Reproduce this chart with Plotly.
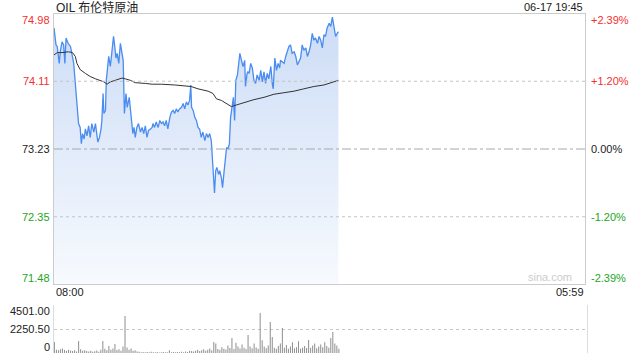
import plotly.graph_objects as go

# ---------------- data ----------------
title_text = "OIL 布伦特原油"
stamp_text = "06-17 19:45"
prev_close = 73.23
pct_ticks = [2.39, 1.20, 0.00, -1.20, -2.39]
session_minutes = 1320          # 08:00 -> 05:59 next day
time_labels = ["08:00", "05:59"]
watermark = "sina.com"

# minutes since 08:00, price
price_t = [0, 5, 8, 10, 13, 16, 20, 24, 27, 30, 35, 41, 45, 49, 53, 57, 61, 65, 68, 71,
           75, 78, 82, 86, 90, 94, 99, 103, 107, 109, 113, 117, 119, 122, 124, 128, 130, 133, 136, 140,
           144, 148, 151, 154, 157, 161, 165, 169, 172, 175, 179, 182, 187, 191, 196, 199, 202, 206, 210, 215,
           219, 223, 227, 231, 235, 240, 244, 246, 250, 254, 259, 263, 267, 271, 275, 279, 283, 288, 292, 296,
           300, 304, 308, 312, 317, 321, 325, 329, 333, 337, 340, 342, 346, 350, 354, 358, 362, 366, 370, 375,
           379, 383, 387, 391, 394, 397, 399, 402, 405, 409, 412, 416, 419, 423, 426, 429, 433, 436, 439, 443,
           446, 449, 452, 456, 459, 462, 466, 470, 474, 476, 480, 482, 485, 489, 493, 497, 501, 505, 510, 514,
           518, 522, 526, 530, 534, 539, 543, 545, 549, 553, 557, 561, 563, 568, 572, 576, 580, 584, 588, 592,
           597, 601, 605, 609, 613, 617, 621, 626, 630, 634, 638, 642, 646, 650, 655, 659, 663, 667, 671, 675,
           679, 684, 688, 692, 696, 700, 704, 707]
price_v = [74.80, 74.58, 74.56, 74.49, 74.34, 74.51, 74.62, 74.58, 74.34, 74.67, 74.60, 74.56, 74.47, 74.34, 74.08, 73.82, 73.56, 73.51, 73.30, 73.43,
           73.36, 73.49, 73.40, 73.53, 73.38, 73.56, 73.45, 73.56, 73.43, 73.32, 73.38, 73.49, 73.60, 73.95, 73.69, 73.73, 74.12, 74.34, 74.43, 74.30,
           74.51, 74.69, 74.56, 74.41, 74.47, 74.34, 74.60, 74.47, 74.38, 73.69, 73.95, 73.77, 73.90, 73.69, 73.43, 73.51, 73.38, 73.51, 73.56, 73.45,
           73.51, 73.43, 73.53, 73.38, 73.47, 73.49, 73.51, 73.56, 73.51, 73.58, 73.51, 73.60, 73.56, 73.58, 73.53, 73.60, 73.49, 73.64, 73.71, 73.73,
           73.69, 73.75, 73.71, 73.75, 73.77, 73.82, 73.75, 73.84, 73.80, 73.86, 74.06, 73.77, 73.73, 73.64, 73.60, 73.51, 73.49, 73.38, 73.45, 73.34,
           73.43, 73.38, 73.43, 73.34, 73.08, 72.90, 72.66, 72.95, 72.99, 72.90, 72.95, 72.86, 72.73, 72.95, 73.08, 73.25, 73.23, 73.30, 73.64, 73.82,
           73.90, 73.60, 74.12, 74.19, 74.34, 74.47, 74.38, 74.30, 74.38, 74.04, 74.21, 74.23, 74.21, 74.34, 74.28, 74.12, 74.08, 74.19, 74.12, 74.25,
           74.10, 74.23, 74.08, 74.21, 74.14, 74.30, 74.06, 74.01, 74.41, 74.25, 74.34, 74.28, 74.38, 74.36, 74.34, 74.43, 74.51, 74.56, 74.58, 74.47,
           74.49, 74.43, 74.32, 74.36, 74.41, 74.58, 74.51, 74.54, 74.43, 74.49, 74.58, 74.73, 74.64, 74.67, 74.60, 74.69, 74.64, 74.54, 74.71, 74.69,
           74.80, 74.86, 74.82, 74.94, 74.78, 74.69, 74.73, 74.75]

# average price line
avg_t = [0, 8, 20, 36, 46, 53, 57, 65, 78, 90, 103, 115, 124, 132, 140, 152, 169, 177, 190, 202,
         215, 227, 244, 267, 300, 341, 358, 383, 395, 404, 416, 428, 441, 453, 470, 497, 522, 547, 572, 597,
         621, 646, 671, 688, 696, 707]
avg_v = [74.45, 74.48, 74.48, 74.49, 74.48, 74.43, 74.34, 74.26, 74.21, 74.17, 74.14, 74.12, 74.10, 74.07, 74.10, 74.12, 74.15, 74.14, 74.12, 74.09,
         74.08, 74.08, 74.07, 74.07, 74.06, 74.04, 74.01, 73.98, 73.95, 73.88, 73.86, 73.82, 73.78, 73.80, 73.83, 73.87, 73.90, 73.94, 73.96, 73.98,
         74.01, 74.04, 74.06, 74.09, 74.11, 74.12]

# volume, one value every 5 minutes from 08:00
vol_step = 5
vol_v = [1030, 300, 250, 350, 420, 280, 200, 310, 240, 180,
         260, 150, 1125, 350, 200, 260, 180, 140, 220, 120,
         160, 240, 120, 300, 1125, 400, 250, 650, 300, 420,
         840, 280, 350, 200, 600, 3470, 520, 300, 420, 200,
         250, 150, 120, 80, 100, 60, 90, 70, 120, 60,
         80, 100, 50, 70, 90, 60, 80, 260, 70, 90,
         60, 100, 80, 120, 70, 150, 100, 200, 180, 140,
         220, 300, 180, 260, 350, 220, 300, 420, 250, 1030,
         900, 380, 300, 550, 400, 320, 700, 480, 1400, 380,
         950, 600, 420, 800, 500, 380, 1690, 600, 450, 900,
         520, 400, 3750, 1200, 600, 450, 700, 2900, 1500, 500,
         400, 650, 900, 2340, 500, 750, 400, 600, 1000, 450,
         550, 1100, 400, 500, 650, 480, 1220, 500, 700, 900,
         450, 600, 800, 550, 1000, 650, 500, 1400, 1970, 900,
         700, 400]
vol_t = [i * vol_step for i in range(len(vol_v))]
vol_ticks = [0, 2250.50, 4501.00]

# ---------------- geometry / styles ----------------
W, H = 640, 360
FONT = "Liberation Sans, Arial, sans-serif"
RED, GREEN, BLACK = "#f23030", "#1ea51e", "#222222"
x0, x1 = 54, 585
main_top, main_bot = 14, 284
vol_top, vol_bot = 305, 353

def px(x):
    return x / W

def py(y):
    return 1 - y / H

lo = prev_close * (1 + min(pct_ticks) / 100)
hi = prev_close * (1 + max(pct_ticks) / 100)
tick_prices = [prev_close * (1 + p / 100) for p in pct_ticks]

fig = go.Figure()

fig.add_trace(go.Scatter(
    x=price_t, y=price_v, mode="lines",
    line=dict(color="#4a8cf0", width=1.3),
    fill="tozeroy",
    fillgradient=dict(type="vertical", start=lo, stop=hi,
                      colorscale=[[0, "rgba(247,250,254,1)"], [1, "rgba(204,220,246,1)"]]),
    hoverinfo="skip", xaxis="x", yaxis="y"))

fig.add_trace(go.Scatter(
    x=avg_t, y=avg_v, mode="lines",
    line=dict(color="#333333", width=1),
    hoverinfo="skip", xaxis="x", yaxis="y"))

fig.add_trace(go.Bar(
    x=vol_t, y=vol_v, width=2.6,
    marker=dict(color="rgba(120,120,120,0.8)", line=dict(width=0)),
    hoverinfo="skip", xaxis="x2", yaxis="y2"))

fig.update_layout(
    width=W, height=H,
    margin=dict(l=0, r=0, t=0, b=0),
    paper_bgcolor="white", plot_bgcolor="rgba(0,0,0,0)",
    showlegend=False,
    font=dict(family=FONT, size=11, color=BLACK),
    xaxis=dict(domain=[px(x0), px(x1)], range=[0, session_minutes],
               showgrid=False, zeroline=False, showticklabels=False,
               showline=True, mirror=True, linecolor="#cccccc", linewidth=1, fixedrange=True),
    yaxis=dict(domain=[py(main_bot), py(main_top)], range=[lo, hi],
               showgrid=False, zeroline=False, showticklabels=False,
               showline=True, mirror=True, linecolor="#cccccc", linewidth=1, fixedrange=True),
    xaxis2=dict(domain=[px(x0), px(x1 + 2)], range=[-1, session_minutes], anchor="y2",
                showgrid=False, zeroline=False, showticklabels=False, showline=False),
    yaxis2=dict(domain=[py(vol_bot), py(vol_top)], range=[0, max(vol_ticks)], anchor="x2",
                tickvals=vol_ticks, showticklabels=False, ticks="",
                showgrid=True, gridcolor="#c8c8c8", griddash="dot", gridwidth=1,
                zeroline=False, showline=True, mirror=True, linecolor="#dddddd"),
)

# horizontal reference lines in main panel (drawn over the fill)
for p, tp in zip(pct_ticks, tick_prices):
    if p in (max(pct_ticks), min(pct_ticks)):
        continue
    is_zero = p == 0
    fig.add_shape(type="line", xref="x domain", yref="y", x0=0, x1=1, y0=tp, y1=tp,
                  line=dict(color="#a8a8a8" if is_zero else "#c4c4c4", width=1,
                            dash="dashdot" if is_zero else "dot"),
                  layer="above")

def col(p):
    return RED if p > 0 else (GREEN if p < 0 else BLACK)

# left price labels and right percent labels
for p, tp in zip(pct_ticks, tick_prices):
    shift = -6 if p == max(pct_ticks) else (6 if p == min(pct_ticks) else 0)
    fig.add_annotation(xref="paper", yref="y", x=px(x0 - 2), y=tp, yshift=shift,
                       text=f"{tp:.2f}", showarrow=False, xanchor="right", yanchor="middle",
                       font=dict(color=col(p), size=11))
    sign = "+" if p > 0 else ""
    fig.add_annotation(xref="paper", yref="y", x=px(x1 + 4), y=tp, yshift=shift,
                       text=f"{sign}{p:.2f}%", showarrow=False, xanchor="left", yanchor="middle",
                       font=dict(color=col(p), size=11))

# volume labels
for v in vol_ticks:
    shift = -6 if v == max(vol_ticks) else (6 if v == 0 else 0)
    fig.add_annotation(xref="paper", yref="y2", x=px(x0 - 2), y=v, yshift=shift,
                       text=("0" if v == 0 else f"{v:.2f}"), showarrow=False,
                       xanchor="right", yanchor="middle", font=dict(color=BLACK, size=11))

# time labels
fig.add_annotation(xref="paper", yref="paper", x=px(x0), y=py(292), text=time_labels[0],
                   showarrow=False, xanchor="left", yanchor="middle", font=dict(size=11, color=BLACK))
fig.add_annotation(xref="paper", yref="paper", x=px(x1 + 1), y=py(292), text=time_labels[1],
                   showarrow=False, xanchor="right", yanchor="middle", font=dict(size=11, color=BLACK))

# title & timestamp
fig.add_annotation(xref="paper", yref="paper", x=px(x0), y=py(7), text=title_text,
                   showarrow=False, xanchor="left", yanchor="middle",
                   font=dict(size=12, color=BLACK, family="Liberation Sans, Noto Sans CJK SC, sans-serif"))
fig.add_annotation(xref="paper", yref="paper", x=px(x1), y=py(7), text=stamp_text,
                   showarrow=False, xanchor="right", yanchor="middle", font=dict(size=11, color=BLACK))

# watermark
fig.add_annotation(xref="paper", yref="paper", x=px(574), y=py(277), text=watermark,
                   showarrow=False, xanchor="right", yanchor="middle", font=dict(size=11, color="#cccccc"))

fig.write_html("out.html", config=dict(displayModeBar=False))
